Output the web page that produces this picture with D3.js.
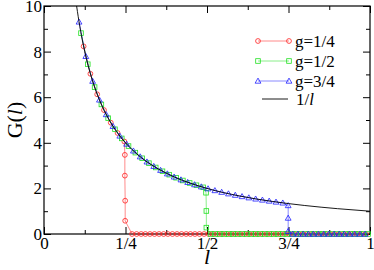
<!DOCTYPE html>
<html>
<head>
<meta charset="utf-8">
<script src="https://cdn.jsdelivr.net/npm/d3@7"></script>
<style>
  body { margin: 0; background: #fff; }
</style>
</head>
<body>
<script>
// data
const redX = [0.1215, 0.1423, 0.1632, 0.1840, 0.2048, 0.2257, 0.2465,
  0.248, 0.248, 0.249, 0.249,
  0.270, 0.284, 0.298, 0.311, 0.325, 0.339, 0.353, 0.367, 0.380, 0.394, 0.408, 0.422, 0.436, 0.449, 0.463, 0.477, 0.491, 0.505, 0.518, 0.532, 0.546, 0.560, 0.574, 0.587, 0.601, 0.615, 0.629, 0.643, 0.656, 0.670, 0.684, 0.698, 0.712, 0.725, 0.739, 0.753, 0.767, 0.781, 0.794, 0.808, 0.822, 0.836, 0.850, 0.863, 0.877, 0.891, 0.905, 0.919, 0.932, 0.946, 0.960, 0.974, 0.988];
const redY = [8.230, 7.027, 6.127, 5.435, 4.883, 4.431, 4.057,
  3.47, 2.56, 1.46, 0.58,
  0, 0, 0, 0, 0, 0, 0, 0, 0, 0, 0, 0, 0, 0, 0, 0, 0, 0, 0, 0, 0, 0, 0, 0, 0, 0, 0, 0, 0, 0, 0, 0, 0, 0, 0, 0, 0, 0, 0, 0, 0, 0, 0, 0, 0, 0, 0, 0, 0, 0, 0, 0, 0];

const greenX = [0.1135, 0.1343, 0.1552, 0.1760, 0.1968, 0.2177, 0.2385, 0.2593, 0.2802, 0.3010, 0.3218, 0.3427, 0.3635, 0.3843, 0.4052, 0.4260, 0.4468, 0.4677, 0.4885,
  0.497, 0.498, 0.498,
  0.511, 0.525, 0.539, 0.553, 0.567, 0.580, 0.594, 0.608, 0.622, 0.636, 0.649, 0.663, 0.677, 0.691, 0.705, 0.718, 0.732, 0.746, 0.760, 0.774, 0.787, 0.801, 0.815, 0.829, 0.843, 0.856, 0.870, 0.884, 0.898, 0.912, 0.925, 0.939, 0.953, 0.967, 0.981, 0.994];
const greenY = [8.811, 7.446, 6.443, 5.682, 5.081, 4.593, 4.193, 3.857, 3.569, 3.322, 3.108, 2.918, 2.751, 2.602, 2.468, 2.347, 2.238, 2.138, 2.047,
  1.81, 1.01, 0.28,
  0, 0, 0, 0, 0, 0, 0, 0, 0, 0, 0, 0, 0, 0, 0, 0, 0, 0, 0, 0, 0, 0, 0, 0, 0, 0, 0, 0, 0, 0, 0, 0, 0, 0, 0, 0];

const blueX = [0.1075, 0.1283, 0.1492, 0.1700, 0.1908, 0.2117, 0.2325, 0.2533, 0.2742, 0.2950, 0.3158, 0.3367, 0.3575, 0.3783, 0.3992, 0.4200, 0.4408, 0.4617, 0.4825, 0.5033, 0.5242, 0.5450, 0.5658, 0.5867, 0.6075, 0.6283, 0.6492, 0.6700, 0.6908, 0.7117, 0.7325,
  0.749, 0.749, 0.749,
  0.763, 0.779, 0.795, 0.811, 0.826, 0.842, 0.858, 0.874, 0.890, 0.906, 0.921, 0.937, 0.953, 0.969, 0.985];
const blueY = [9.302, 7.793, 6.704, 5.882, 5.240, 4.724, 4.301, 3.947, 3.647, 3.390, 3.166, 2.970, 2.797, 2.643, 2.505, 2.381, 2.268, 2.166, 2.073, 1.987, 1.908, 1.835, 1.767, 1.705, 1.646, 1.592, 1.540, 1.493, 1.448, 1.405, 1.365,
  1.25, 0.70, 0.12,
  0, 0, 0, 0, 0, 0, 0, 0, 0, 0, 0, 0, 0, 0, 0];

// reference curve 1/l
const invX = [0.1, 0.11, 0.12, 0.13, 0.14, 0.15, 0.17, 0.2, 0.23, 0.27, 0.3, 0.35, 0.4, 0.5, 0.6, 0.7, 0.8, 0.9, 1.0];
const invY = [10, 9.091, 8.333, 7.692, 7.143, 6.667, 5.882, 5, 4.348, 3.704, 3.333, 2.857, 2.5, 2, 1.667, 1.429, 1.25, 1.111, 1];

const xTicks = [0, 0.25, 0.5, 0.75, 1];
const xTickLabels = ["0", "1/4", "1/2", "3/4", "1"];
const xMinor = [0.125, 0.375, 0.625, 0.875];
const yTicks = [0, 2, 4, 6, 8, 10];
const yMinor = [1, 3, 5, 7, 9];

const FONT = '"Liberation Serif"';
const W = 374, H = 270;
const svg = d3.select('body').append('svg')
    .attr('width', W)
    .attr('height', H);

const x = d3.scaleLinear().domain([0, 1]).range([44, 370]);
const y = d3.scaleLinear().domain([0, 10]).range([234, 6]);

// axes, ticks pointing inward
function styleAxis(g) {
    g.select('.domain').remove();
    g.selectAll('line').attr('stroke', '#000').attr('stroke-width', 1);
    g.selectAll('text').attr('font-size', null).attr('fill', '#000')
        .style('font-family', FONT).style('font-size', '17px');
}

svg.append('g').attr('transform', `translate(0,${y(0)})`)
    .call(d3.axisBottom(x).tickValues(xTicks).tickSize(-7).tickPadding(3)
        .tickFormat((d, i) => xTickLabels[i]))
    .call(styleAxis);
svg.append('g').attr('transform', `translate(0,${y(0)})`)
    .call(d3.axisBottom(x).tickValues(xMinor).tickSize(-4).tickFormat(''))
    .call(styleAxis);
svg.append('g').attr('transform', `translate(0,${y(10)})`)
    .call(d3.axisTop(x).tickValues(xTicks).tickSize(-7).tickFormat(''))
    .call(styleAxis);
svg.append('g').attr('transform', `translate(0,${y(10)})`)
    .call(d3.axisTop(x).tickValues(xMinor).tickSize(-4).tickFormat(''))
    .call(styleAxis);

svg.append('g').attr('transform', `translate(${x(0)},0)`)
    .call(d3.axisLeft(y).tickValues(yTicks).tickSize(-7).tickPadding(2).tickFormat(d3.format('d')))
    .call(styleAxis);
svg.append('g').attr('transform', `translate(${x(0)},0)`)
    .call(d3.axisLeft(y).tickValues(yMinor).tickSize(-4).tickFormat(''))
    .call(styleAxis);
svg.append('g').attr('transform', `translate(${x(1)},0)`)
    .call(d3.axisRight(y).tickValues(yTicks).tickSize(-7).tickFormat(''))
    .call(styleAxis);
svg.append('g').attr('transform', `translate(${x(1)},0)`)
    .call(d3.axisRight(y).tickValues(yMinor).tickSize(-4).tickFormat(''))
    .call(styleAxis);

// frame
svg.append('rect')
    .attr('x', x(0)).attr('y', y(10))
    .attr('width', x(1) - x(0)).attr('height', y(0) - y(10))
    .attr('fill', 'none').attr('stroke', '#000').attr('stroke-width', 1.2);

// series
const line = d3.line().x(d => x(d[0])).y(d => y(d[1]));
const zip = (a, b) => a.map((v, i) => [v, b[i]]);

const series = [
    { name: 'g=1/4', color: '#ff2020', shape: 'circle', data: zip(redX, redY) },
    { name: 'g=1/2', color: '#20e020', shape: 'square', data: zip(greenX, greenY) },
    { name: 'g=3/4', color: '#2020ff', shape: 'triangle', data: zip(blueX, blueY) }
];

function drawMarker(g, shape, color, cx, cy) {
    if (shape === 'circle') {
        g.append('circle').attr('cx', cx).attr('cy', cy).attr('r', 2.4)
            .attr('fill', 'none').attr('stroke', color).attr('stroke-width', 0.8);
    } else if (shape === 'square') {
        g.append('rect').attr('x', cx - 2.3).attr('y', cy - 2.3)
            .attr('width', 4.6).attr('height', 4.6)
            .attr('fill', 'none').attr('stroke', color).attr('stroke-width', 0.8);
    } else {
        const s = 2.9;
        g.append('path')
            .attr('d', `M${cx},${cy - s}L${cx + s},${cy + s * 0.75}L${cx - s},${cy + s * 0.75}Z`)
            .attr('fill', 'none').attr('stroke', color).attr('stroke-width', 0.8);
    }
}

series.forEach(s => {
    const g = svg.append('g');
    g.append('path').datum(s.data).attr('d', line)
        .attr('fill', 'none').attr('stroke', s.color).attr('stroke-width', 0.7)
        .attr('stroke-opacity', 0.75);
    s.data.forEach(d => drawMarker(g, s.shape, s.color, x(d[0]), y(d[1])));
});

// 1/l curve
svg.append('path')
    .datum(zip(invX, invY))
    .attr('d', d3.line().x(d => x(d[0])).y(d => y(d[1])).curve(d3.curveMonotoneX))
    .attr('fill', 'none').attr('stroke', '#000').attr('stroke-width', 0.9);

// legend
const legend = svg.append('g');
const legY = [41, 61, 81, 99];
series.forEach((s, i) => {
    legend.append('line').attr('x1', 258).attr('x2', 289)
        .attr('y1', legY[i]).attr('y2', legY[i])
        .attr('stroke', s.color).attr('stroke-width', 0.7).attr('stroke-opacity', 0.75);
    drawMarker(legend, s.shape, s.color, 258, legY[i]);
    drawMarker(legend, s.shape, s.color, 289, legY[i]);
    legend.append('text').attr('x', 295).attr('y', legY[i] + 6)
        .style('font-family', FONT).style('font-size', '17px').text(s.name);
});
legend.append('line').attr('x1', 262).attr('x2', 288)
    .attr('y1', legY[3]).attr('y2', legY[3])
    .attr('stroke', '#000').attr('stroke-width', 0.9);
const invLabel = legend.append('text').attr('x', 296).attr('y', legY[3] + 6)
    .style('font-family', FONT).style('font-size', '17px');
invLabel.append('tspan').text('1/');
invLabel.append('tspan').style('font-style', 'italic').text('l');

// axis titles
svg.append('text')
    .attr('x', x(0.5)).attr('y', 264)
    .attr('text-anchor', 'middle')
    .style('font-family', FONT).style('font-size', '22px')
    .style('font-style', 'italic').text('l');

const yt = svg.append('text')
    .attr('transform', `translate(22,${y(5)}) rotate(-90)`)
    .attr('text-anchor', 'middle')
    .style('font-family', FONT).style('font-size', '22px');
yt.append('tspan').text('G(');
yt.append('tspan').style('font-style', 'italic').text('l');
yt.append('tspan').text(')');
</script>
</body>
</html>
